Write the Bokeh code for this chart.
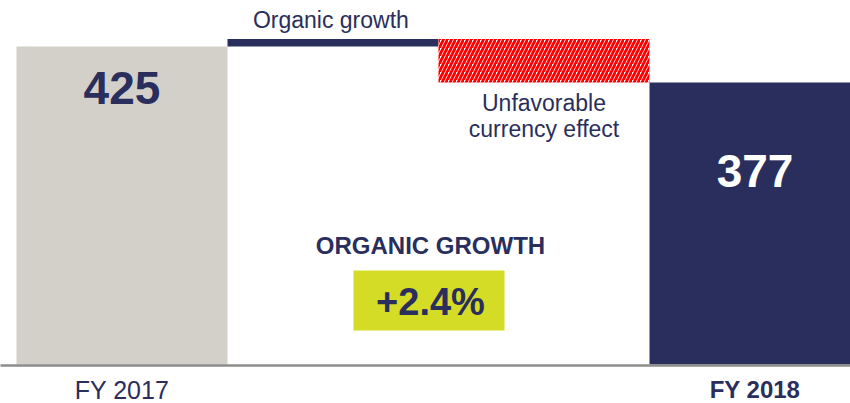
from bokeh.plotting import figure
from bokeh.models import Range1d
from bokeh.embed import file_html
from bokeh.resources import INLINE
from bokeh.core.properties import value

# ---- data ----
categories = ["FY 2017", "Organic growth", "Unfavorable currency effect", "FY 2018"]
start_value = 425
organic_delta = 10
currency_delta = -58
end_value = 377
organic_growth_pct = "+2.4%"

NAVY = "#2a2e5c"
GRAY = "#d3d0c9"
LIME = "#d4dc26"
RED = "#ff0000"
FONT = "Liberation Sans"

p = figure(width=850, height=403, output_backend="svg", toolbar_location=None,
           x_range=Range1d(-0.5758, 3.4526), y_range=Range1d(-52.1, 486.5),
           min_border=0, outline_line_color=None)
p.xaxis.visible = False
p.yaxis.visible = False
p.grid.visible = False

# waterfall bars
after_org = start_value + organic_delta
p.vbar(x=[0], bottom=[0], top=[start_value], width=1.0, fill_color=GRAY, line_color=None)
p.vbar(x=[1], bottom=[start_value], top=[after_org], width=1.0, fill_color=NAVY, line_color=None)
p.vbar(x=[2], bottom=[after_org + currency_delta], top=[after_org], width=1.0,
       fill_color="white", line_color=None, hatch_pattern="right_diagonal_line",
       hatch_color=RED, hatch_scale=8, hatch_weight=2.8)
p.vbar(x=[3], bottom=[0], top=[end_value], width=1.0, fill_color=NAVY, line_color=None)

# baseline
p.segment(x0=[-0.7], y0=[-1.4], x1=[3.6], y1=[-1.4], line_color="#8c8c8c", line_width=2.5)

# value labels
p.text(x=[0], y=[370], text=[str(start_value)], text_font=value(FONT),
       text_font_style="bold", text_font_size="46px", text_color=NAVY,
       text_align="center", text_baseline="middle")
p.text(x=[3], y=[258], text=[str(end_value)], text_font=value(FONT),
       text_font_style="bold", text_font_size="46px", text_color="white",
       text_align="center", text_baseline="middle")

# step labels
p.text(x=[0.99], y=[460], text=[categories[1]], text_font=value(FONT),
       text_font_size="23px", text_color=NAVY, text_align="center", text_baseline="middle")
p.text(x=[2.0], y=[349], text=["Unfavorable"], text_font=value(FONT),
       text_font_size="23px", text_color=NAVY, text_align="center", text_baseline="middle")
p.text(x=[2.0], y=[315], text=["currency effect"], text_font=value(FONT),
       text_font_size="23px", text_color=NAVY, text_align="center", text_baseline="middle")

# organic growth callout
p.text(x=[1.462], y=[159], text=["ORGANIC GROWTH"], text_font=value(FONT), text_font_style="bold",
       text_font_size="24px", text_color=NAVY, text_align="center", text_baseline="middle")
p.quad(left=[1.0972], right=[1.8128], bottom=[45.4], top=[125.6], fill_color=LIME, line_color=None)
p.text(x=[1.462], y=[84], text=[organic_growth_pct], text_font=value(FONT), text_font_style="bold",
       text_font_size="38px", text_color=NAVY, text_align="center", text_baseline="middle")

# category labels
p.text(x=[0], y=[-33.6], text=[categories[0]], text_font=value(FONT),
       text_font_size="25px", text_color=NAVY, text_align="center", text_baseline="middle")
p.text(x=[3], y=[-33.6], text=[categories[3]], text_font=value(FONT), text_font_style="bold",
       text_font_size="24px", text_color=NAVY, text_align="center", text_baseline="middle")

open("out.html", "w").write(file_html(p, INLINE))
